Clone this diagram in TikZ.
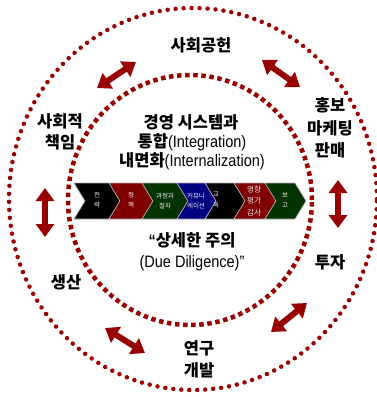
\documentclass[tikz,border=0pt]{standalone}
\usepackage{fontspec}
\setmainfont{Noto Sans CJK KR}
\newfontfamily\kr{Noto Sans CJK KR}
\newfontfamily\narrowlat[FakeStretch=0.88]{Liberation Sans}
\usetikzlibrary{arrows.meta}
\definecolor{dred}{HTML}{990000}
\definecolor{cred}{HTML}{800000}
\definecolor{cgreen}{HTML}{003300}
\definecolor{cblue}{HTML}{000080}
\tikzset{
  lab/.style={inner sep=0pt, align=center, font=\kr\bfseries\fontsize{16.5}{21}\selectfont},
  ctr/.style={inner sep=0pt, font=\fontsize{16.5}{20}\selectfont},
  darr/.style={dred, line width=6pt, {Triangle[width=18pt,length=13pt]}-{Triangle[width=18pt,length=13pt]}},
  chev/.style={draw=gray!60, line width=0.6pt},
  ctext/.style={inner sep=0pt, align=center, text=white!85!gray, font=\kr\fontsize{6.5}{10.5}\selectfont}
}
\begin{document}
\begin{tikzpicture}[x=1pt,y=-1pt]
\useasboundingbox (0,0) rectangle (376,397);
% circles
\draw[dred, line width=4.5pt, line cap=round, dash pattern=on 0pt off 8pt] (193,199) ellipse [x radius=184pt, y radius=191pt];
\draw[dred, line width=4.5pt, dash pattern=on 4.5pt off 3.6pt] (190,200) ellipse [x radius=122pt, y radius=125pt];
% chevrons: top-left x positions
\def\cy{183}\def\cb{219}\def\cm{201}\def\dd{11}
\foreach \xa/\xb/\col in {74/109/black, 109/142/cred, 142/177/cgreen, 177/205/cblue, 205/234/black, 234/265/cred, 265/295/cgreen}{
  \fill[\col] (\xa,\cy) -- (\xb,\cy) -- (\xb+\dd,\cm) -- (\xb,\cb) -- (\xa,\cb) -- (\xa+\dd,\cm) -- cycle;
  \draw[chev] (\xa,\cy) -- (\xb,\cy) -- (\xb+\dd,\cm) -- (\xb,\cb) -- (\xa,\cb) -- (\xa+\dd,\cm) -- cycle;
}
\node[ctext] (c1) at (97,200) {전\\략};
\node[ctext] (c2) at (131,200) {정\\책};
\node[ctext] (c3) at (165,201) {과정과\\절차};
\node[ctext] (c4) at (196,201) {커뮤니\\케이션};
\node[ctext] (c5) at (216,200) {교\\육};
\node[ctext, font=\kr\fontsize{7.5}{11.5}\selectfont] (c6) at (254,201) {영향\\평가\\감사};
\node[ctext] (c7) at (285,200) {보\\고};
% outer labels
\node[lab] (shg) at (201,45) {사회공헌};
\node[lab] (sch) at (60,132) {사회적\\책임};
\node[lab] (prod) at (66,282) {생산};
\node[lab, font=\kr\bfseries\fontsize{16.5}{22.5}\selectfont] (pr) at (330,128) {홍보\\마케팅\\판매};
\node[lab] (inv) at (330,262) {투자};
\node[lab, font=\kr\bfseries\fontsize{16.5}{22}\selectfont] (rnd) at (199,359) {연구\\개발};
% center text
\node[ctr, font=\kr\bfseries\fontsize{16.5}{20}\selectfont] (t1) at (191,122) {경영 시스템과};
\node[ctr] (t2) at (192,142) {{\kr\bfseries 통합}{\narrowlat (Integration)}};
\node[ctr] (t3) at (192,161) {{\kr\bfseries 내면화}{\narrowlat (Internalization)}};
\node[ctr] (t4) at (192,240) {{\narrowlat\bfseries “}{\kr\bfseries 상세한 주의}};
\node[ctr] (t5) at (192,263) {{\narrowlat (Due Diligence)”}};
% arrows
\coordinate (a1s) at (97,88); \coordinate (a1e) at (136,62);
\coordinate (a2s) at (262,60); \coordinate (a2e) at (300,87);
\coordinate (a3s) at (45,188); \coordinate (a3e) at (45,237);
\coordinate (a4s) at (338,180); \coordinate (a4e) at (338,228);
\coordinate (a5s) at (105,328); \coordinate (a5e) at (145,353);
\coordinate (a6s) at (271,332); \coordinate (a6e) at (307,303);
\draw[darr] (a1s) -- (a1e);
\draw[darr] (a2s) -- (a2e);
\draw[darr] (a3s) -- (a3e);
\draw[darr] (a4s) -- (a4e);
\draw[darr] (a5s) -- (a5e);
\draw[darr] (a6s) -- (a6e);
\end{tikzpicture}
\end{document}
